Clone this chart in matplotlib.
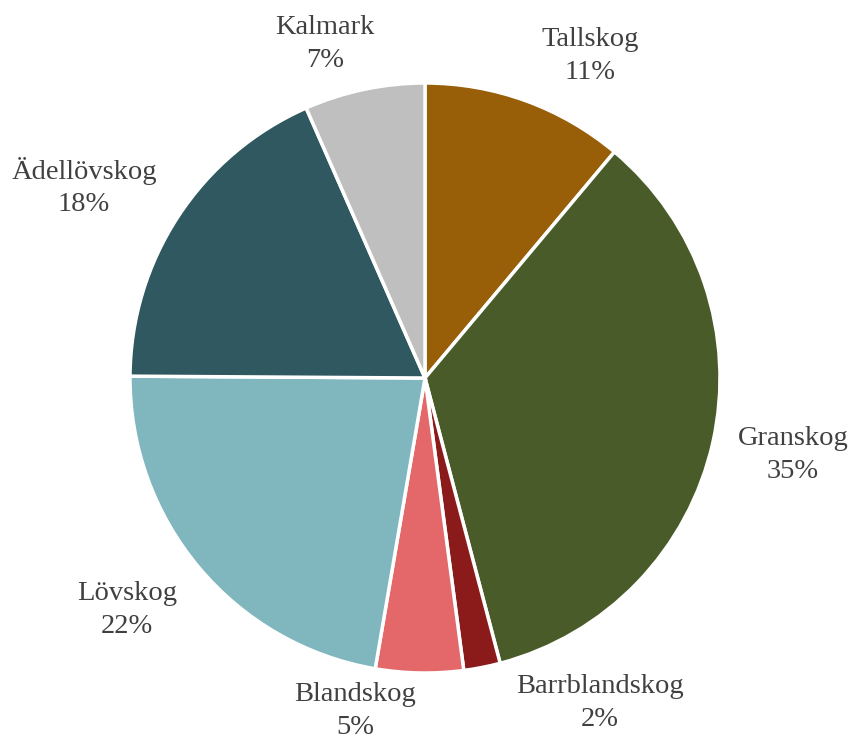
import matplotlib
matplotlib.use("Agg")
import matplotlib.pyplot as plt

categories = ["Tallskog", "Granskog", "Barrblandskog", "Blandskog", "Lövskog", "Ädellövskog", "Kalmark"]
values = [11.1, 34.8, 2.0, 4.8, 22.4, 18.3, 6.6]
colors = ["#985E08", "#4A5B2A", "#8B1A1A", "#E4686A", "#80B6BE", "#2F5860", "#BFBFBF"]

# label offsets from pie centre, in units of the radius (style)
label_offsets = [(0.559, 1.092), (1.247, -0.261), (0.593, -1.102), (-0.237, -1.129),
                 (-1.010, -0.786), (-1.156, 0.647), (-0.339, 1.132)]

W, H = 850, 736
fig = plt.figure(figsize=(W / 100, H / 100), dpi=100)
ax = fig.add_axes([0, 0, 1, 1])
cx, cy, R = 425, 358, 295
ax.pie(values, colors=colors, startangle=90, counterclock=False,
       center=(cx, cy), radius=R, frame=True,
       wedgeprops=dict(edgecolor="white", linewidth=2.5))
ax.set_xlim(0, W)
ax.set_ylim(0, H)
ax.set_aspect("equal")
ax.axis("off")

total = sum(values)
for cat, v, (ox, oy) in zip(categories, values, label_offsets):
    ax.text(cx + ox * R, cy + oy * R, f"{cat}\n{round(100 * v / total)}%",
            ha="center", va="center", fontsize=20.5, family="Liberation Serif",
            color="#404040", linespacing=1.4)

fig.savefig("out.png", dpi=100)
